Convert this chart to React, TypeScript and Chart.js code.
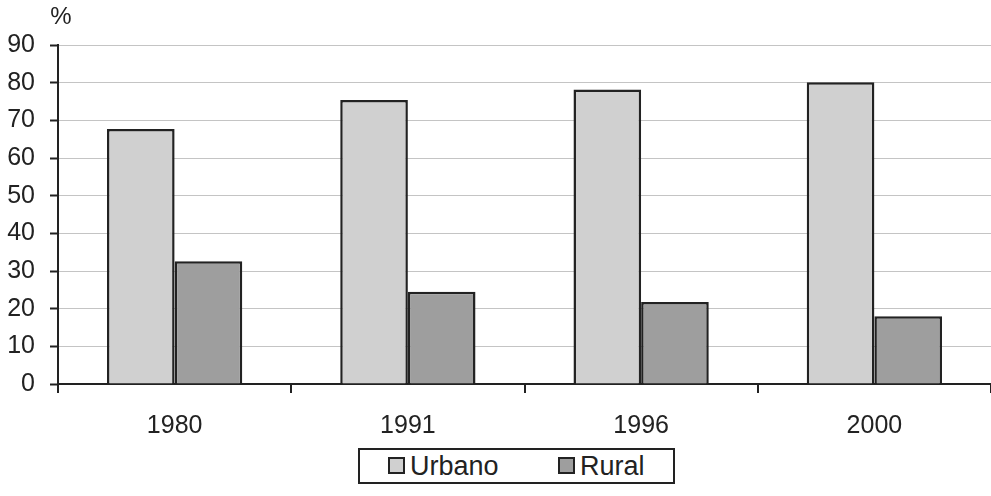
import React, { useEffect, useRef } from "react";
import { Chart, registerables } from "chart.js";

Chart.register(...registerables);

const categories = ["1980", "1991", "1996", "2000"];
const urbanoValues = [67.7, 75.4, 78.2, 80.1];
const ruralValues = [32.6, 24.5, 21.8, 18.0];
const yTicks = [0, 10, 20, 30, 40, 50, 60, 70, 80, 90];
const seriesNames = ["Urbano", "Rural"];
const unitLabel = "%";

const FONT = "'Liberation Sans', Arial, sans-serif";
const URBANO_COLOR = "#d0d0d0";
const RURAL_COLOR = "#9e9e9e";
const INK = "#222222";

export default function App() {
  const ref = useRef<HTMLCanvasElement | null>(null);

  useEffect(() => {
    const canvas = ref.current;
    if (!canvas) return;
    const unitPlugin = {
      id: "unitLabel",
      afterDraw(chart: any) {
        const ctx = chart.ctx;
        ctx.save();
        ctx.fillStyle = INK;
        ctx.font = `24px ${FONT}`;
        ctx.textAlign = "center";
        ctx.textBaseline = "middle";
        ctx.fillText(unitLabel, chart.chartArea.left + 3, 17);
        ctx.restore();
      },
    };
    const chart = new Chart(canvas, {
      type: "bar",
      data: {
        labels: categories,
        datasets: [
          {
            label: seriesNames[0],
            data: urbanoValues,
            backgroundColor: URBANO_COLOR,
            borderColor: INK,
            borderWidth: 2.5,
            categoryPercentage: 0.58,
            barPercentage: 1.0,
          },
          {
            label: seriesNames[1],
            data: ruralValues,
            backgroundColor: RURAL_COLOR,
            borderColor: INK,
            borderWidth: 2.5,
            categoryPercentage: 0.58,
            barPercentage: 1.0,
          },
        ],
      },
      options: {
        responsive: false,
        animation: false,
        layout: { padding: { top: 45, right: 0, bottom: 0, left: 0 } },
        plugins: {
          legend: { display: false },
          tooltip: { enabled: false },
          title: { display: false },
        },
        scales: {
          x: {
            type: "category",
            offset: true,
            grid: {
              display: true,
              offset: true,
              drawOnChartArea: false,
              drawTicks: true,
              tickLength: 9,
              color: INK,
              lineWidth: 2,
            },
            border: { display: true, color: INK, width: 2 },
            ticks: {
              color: INK,
              font: { family: FONT, size: 25 },
              padding: 18,
              maxRotation: 0,
            },
            afterFit(scale: any) {
              scale.height = 112;
            },
          },
          y: {
            min: 0,
            max: 90,
            afterBuildTicks(scale: any) {
              scale.ticks = yTicks.map((v) => ({ value: v }));
            },
            grid: {
              display: true,
              color: "#c4c4c4",
              lineWidth: 1,
              drawTicks: true,
              tickLength: 8,
              tickColor: INK,
              tickWidth: 2,
            },
            border: { display: true, color: INK, width: 2 },
            ticks: {
              color: INK,
              font: { family: FONT, size: 25 },
              padding: 15,
            },
            afterFit(scale: any) {
              scale.width = 58;
            },
          },
        },
      },
      plugins: [unitPlugin],
    });
    return () => chart.destroy();
  }, []);

  const legendText: React.CSSProperties = {
    fontFamily: FONT,
    fontSize: 27,
    color: INK,
    lineHeight: "32px",
  };
  const swatch = (color: string): React.CSSProperties => ({
    display: "inline-block",
    width: 13,
    height: 13,
    border: `2px solid ${INK}`,
    background: color,
    marginRight: 5,
    verticalAlign: "middle",
    position: "relative",
    top: -2,
  });

  return (
    <div style={{ position: "fixed", left: 0, top: 0, width: 991, height: 496, background: "#ffffff" }}>
      <canvas ref={ref} width={991} height={496} style={{ display: "block" }} />
      <div
        style={{
          position: "absolute",
          left: 358,
          top: 448,
          width: 313,
          height: 32,
          border: `2px solid ${INK}`,
          boxSizing: "content-box",
          background: "#ffffff",
        }}
      >
        <div style={{ position: "absolute", left: 28, top: 0, whiteSpace: "nowrap", ...legendText }}>
          <span style={swatch(URBANO_COLOR)} />
          {seriesNames[0]}
        </div>
        <div style={{ position: "absolute", left: 198, top: 0, whiteSpace: "nowrap", ...legendText }}>
          <span style={swatch(RURAL_COLOR)} />
          {seriesNames[1]}
        </div>
      </div>
    </div>
  );
}
